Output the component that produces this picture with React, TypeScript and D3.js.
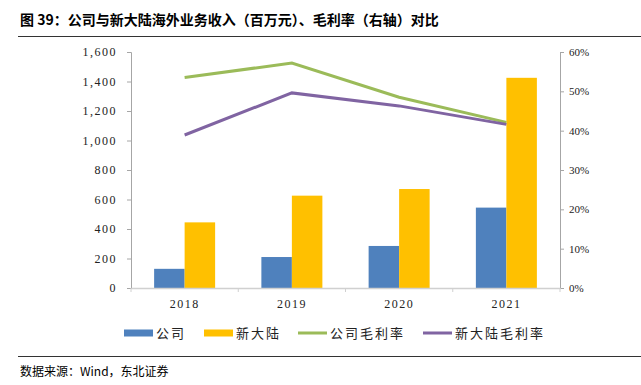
import { useEffect, useRef } from 'react';
import * as d3 from 'd3';

const years = ['2018', '2019', '2020', '2021'];
const companyRevenue = [130, 210, 285, 545];
const xdlRevenue = [445, 626, 671, 1425];
const companyMargin = [53.5, 57.2, 48.5, 42.1];
const xdlMargin = [38.9, 49.6, 46.3, 41.6];
const leftTicks = [0, 200, 400, 600, 800, 1000, 1200, 1400, 1600];
const rightTicks = [0, 10, 20, 30, 40, 50, 60];

const width = 641;
const height = 385;
const cjk = '"Noto Sans CJK SC", sans-serif';
const serif = '"Liberation Serif", "Times New Roman", serif';

const App = () => {
  const svgRef = useRef<SVGSVGElement>(null);

  useEffect(() => {
    const svg = d3.select(svgRef.current);
    svg.selectAll('*').remove();

    const left = 131, right = 560, top = 52, bottom = 288;

    // 标题和分隔线
    svg.append('text')
      .attr('x', 20).attr('y', 25)
      .attr('font-family', cjk).attr('font-weight', 700)
      .attr('font-size', 14).attr('fill', '#000')
      .text('图 39：公司与新大陆海外业务收入（百万元）、毛利率（右轴）对比');
    svg.append('line').attr('x1', 18).attr('x2', 641).attr('y1', 36.5).attr('y2', 36.5)
      .attr('stroke', '#333').attr('stroke-width', 1);
    svg.append('line').attr('x1', 18).attr('x2', 641).attr('y1', 356.5).attr('y2', 356.5)
      .attr('stroke', '#333').attr('stroke-width', 1);
    svg.append('text')
      .attr('x', 20).attr('y', 376)
      .attr('font-family', cjk).attr('font-size', 12).attr('fill', '#000')
      .text('数据来源：Wind，东北证券');

    const x = d3.scaleBand().domain(years).range([left, right]);
    const yL = d3.scaleLinear().domain([0, 1600]).range([bottom, top]);
    const yR = d3.scaleLinear().domain([0, 60]).range([bottom, top]);
    const barW = 30.5;

    const axisColor = '#a6a6a6';

    // 柱子
    const g = svg.append('g');
    g.selectAll('.b1').data(years).enter().append('rect')
      .attr('x', d => x(d)! + x.bandwidth() / 2 - barW)
      .attr('y', (d, i) => yL(companyRevenue[i]))
      .attr('width', barW)
      .attr('height', (d, i) => bottom - yL(companyRevenue[i]))
      .attr('fill', '#4F81BD');
    g.selectAll('.b2').data(years).enter().append('rect')
      .attr('x', d => x(d)! + x.bandwidth() / 2)
      .attr('y', (d, i) => yL(xdlRevenue[i]))
      .attr('width', barW)
      .attr('height', (d, i) => bottom - yL(xdlRevenue[i]))
      .attr('fill', '#FFC000');

    // 左轴
    const la = svg.append('g').attr('transform', `translate(${left},0)`)
      .call(d3.axisLeft(yL).tickValues(leftTicks).tickSize(4).tickFormat(d => d3.format(',')(d as number)));
    la.select('.domain').attr('stroke', axisColor);
    la.selectAll('.tick line').attr('stroke', axisColor);
    la.selectAll('.tick text').attr('font-family', serif).attr('font-size', 12)
      .attr('letter-spacing', 1.5).attr('fill', '#222').attr('x', -14);

    // 右轴
    const ra = svg.append('g').attr('transform', `translate(${right},0)`)
      .call(d3.axisRight(yR).tickValues(rightTicks).tickSize(4).tickFormat(d => `${d}%`));
    ra.select('.domain').attr('stroke', axisColor);
    ra.selectAll('.tick line').attr('stroke', axisColor);
    ra.selectAll('.tick text').attr('font-family', serif).attr('font-size', 11)
      .attr('fill', '#222').attr('x', 9);

    // X 轴
    const xa = svg.append('g').attr('transform', `translate(0,${bottom})`)
      .call(d3.axisBottom(x).tickSize(0).tickSizeOuter(0));
    xa.select('.domain').attr('stroke', '#d0d0d0').attr('stroke-width', 1.5);
    xa.selectAll('.tick text').attr('font-family', serif).attr('font-size', 12)
      .attr('letter-spacing', 1.5).attr('fill', '#222').attr('y', 11);
    const bounds = years.map(d => x(d)!).concat([right]);
    xa.selectAll('.sep').data(bounds).enter().append('line')
      .attr('x1', d => d).attr('x2', d => d).attr('y1', 0).attr('y2', 4)
      .attr('stroke', '#d0d0d0');

    // 折线
    const line = d3.line<number>()
      .x((d, i) => x(years[i])! + x.bandwidth() / 2)
      .y(d => yR(d));
    svg.append('path').datum(companyMargin).attr('d', line)
      .attr('fill', 'none').attr('stroke', '#9BBB59').attr('stroke-width', 3);
    svg.append('path').datum(xdlMargin).attr('d', line)
      .attr('fill', 'none').attr('stroke', '#8064A2').attr('stroke-width', 3);

    // 图例
    const legend = [
      { label: '公司', color: '#4F81BD', type: 'bar', x: 124 },
      { label: '新大陆', color: '#FFC000', type: 'bar', x: 204 },
      { label: '公司毛利率', color: '#9BBB59', type: 'line', x: 298 },
      { label: '新大陆毛利率', color: '#8064A2', type: 'line', x: 423 },
    ];
    const lg = svg.selectAll('.lg').data(legend).enter().append('g')
      .attr('transform', d => `translate(${d.x},333)`);
    lg.append('rect')
      .attr('x', 0).attr('width', 29)
      .attr('y', d => (d.type === 'bar' ? -3.5 : -1.5))
      .attr('height', d => (d.type === 'bar' ? 7 : 3))
      .attr('fill', d => d.color);
    lg.append('text')
      .attr('x', 32).attr('y', 5)
      .attr('font-family', cjk).attr('font-size', 13)
      .attr('letter-spacing', 2).attr('fill', '#222')
      .text(d => d.label);
  }, []);

  return <svg ref={svgRef} width={width} height={height} style={{ position: 'absolute', left: 0, top: 0 }}></svg>;
};

export default App;
